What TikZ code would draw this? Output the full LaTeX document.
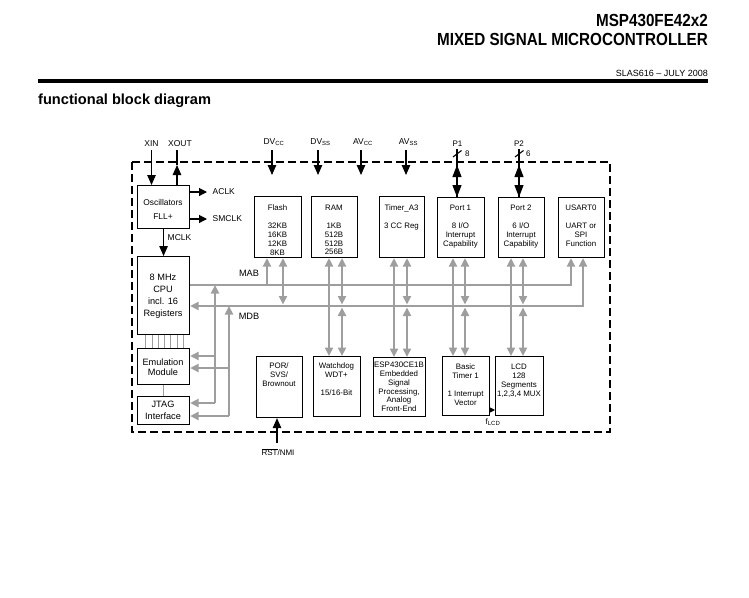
\documentclass[tikz,border=0pt]{standalone}
\usepackage{fontspec}
\setmainfont{Liberation Sans}
\newfontfamily\hdfont[FakeStretch=0.87]{Liberation Sans}
\usetikzlibrary{arrows.meta}
\definecolor{busgray}{RGB}{158,158,158}
\tikzset{
  box/.style={draw=black, line width=1.1pt, inner sep=0pt, anchor=north west},
  txt/.style={inner sep=0pt, align=center, anchor=north, font=\fontsize{7.9}{8.8}\selectfont},
  cputxt/.style={inner sep=0pt, align=center, anchor=north},
  lbl/.style={inner sep=0pt, font=\fontsize{8.5}{10}\selectfont},
  bus/.style={draw=busgray, line width=2.6pt},
  busarr/.style={bus, -{Triangle[width=8pt,length=8.5pt]}},
  busdbl/.style={bus, {Triangle[width=8pt,length=8.5pt]}-{Triangle[width=8pt,length=8.5pt]}},
  blk/.style={draw=black, line width=1.1pt, -{Triangle[width=8.5pt,length=10pt]}},
  blkline/.style={draw=black, line width=1.1pt},
  smallarr/.style={draw=black, line width=1pt, -{Triangle[width=6pt,length=6pt]}},
  thingray/.style={draw=busgray, line width=0.7pt},
  frame/.style={draw=black, line width=1.7pt, dash pattern=on 8pt off 4pt},
}
\begin{document}
\begin{tikzpicture}[x=1pt,y=-1pt]
\useasboundingbox (0,0) rectangle (749,597);
% header
\node[anchor=base east, inner sep=0, font={\hdfont\bfseries\fontsize{17.5}{18}\selectfont}] (title1) at (708,26.5) {MSP430FE42x2};
\node[anchor=base east, inner sep=0, font={\hdfont\bfseries\fontsize{17.5}{18}\selectfont}] (title2) at (708,45.5) {MIXED SIGNAL MICROCONTROLLER};
\node[anchor=base east, inner sep=0, font={\fontsize{9}{10}\selectfont}] (docid) at (708,76) {SLAS616 – JULY 2008};
\draw[line width=4.5pt] (38,80.8) -- (708,80.8);
\node[anchor=base west, inner sep=0, font={\bfseries\fontsize{14.6}{16}\selectfont}] (fbd) at (38,104) {functional block diagram};

% frame
\draw[frame] (132,162) rectangle (610,432);

% coordinates of buses
\coordinate (mab) at (0,285);
\coordinate (mdb) at (0,306);

% boxes
\node[box, minimum width=52pt, minimum height=43pt] (osc) at (137,185) {};
\node[box, minimum width=52pt, minimum height=78pt] (cpu) at (137,256) {};
\node[box, minimum width=52pt, minimum height=36pt] (emu) at (137,348) {};
\node[box, minimum width=52pt, minimum height=28pt] (jtag) at (137,396) {};

\node[box, minimum width=47pt, minimum height=61pt] (flash) at (254,196) {};
\node[box, minimum width=46pt, minimum height=61pt] (ram) at (311,196) {};
\node[box, minimum width=45pt, minimum height=61pt] (timer) at (379,196) {};
\node[box, minimum width=47pt, minimum height=60pt] (port1) at (437,197) {};
\node[box, minimum width=46pt, minimum height=60pt] (port2) at (498,197) {};
\node[box, minimum width=46pt, minimum height=60pt] (usart) at (558,197) {};

\node[box, minimum width=46pt, minimum height=61pt] (por) at (256,356) {};
\node[box, minimum width=47pt, minimum height=60pt] (wdt) at (313,356) {};
\node[box, minimum width=52pt, minimum height=59pt] (esp) at (373,357) {};
\node[box, minimum width=47pt, minimum height=59pt] (bt) at (442,356) {};
\node[box, minimum width=48pt, minimum height=59pt] (lcd) at (495,356) {};

% box texts
\node[cputxt, font={\fontsize{8.4}{14}\selectfont}] (osc-t) at (163,199) {Oscillators\\FLL+};
\node[cputxt, font={\fontsize{9.2}{12}\selectfont}] (cpu-t) at (163,273.5) {8 MHz\\CPU\\incl. 16\\Registers};
\node[cputxt, font={\fontsize{9.2}{10.3}\selectfont}] (emu-t) at (163,358.5) {Emulation\\Module};
\node[cputxt, font={\fontsize{9.2}{12}\selectfont}] (jtag-t) at (163,400.5) {JTAG\\Interface};

\node[txt] (flash-t) at (277.5,205) {Flash\\[9pt]32KB\\16KB\\12KB\\8KB};
\node[txt] (ram-t) at (334,205) {RAM\\[9pt]1KB\\512B\\512B\\256B};
\node[txt] (timer-t) at (401.5,205) {Timer\_A3\\[9pt]3 CC Reg};
\node[txt] (port1-t) at (460.5,205) {Port 1\\[9pt]8 I/O\\Interrupt\\Capability};
\node[txt] (port2-t) at (521,205) {Port 2\\[9pt]6 I/O\\Interrupt\\Capability};
\node[txt] (usart-t) at (581,205) {USART0\\[9pt]UART or\\SPI\\Function};

\node[txt] (por-t) at (279,363) {POR/\\SVS/\\Brownout};
\node[txt] (wdt-t) at (336.5,363) {Watchdog\\WDT+\\[9pt]15/16-Bit};
\node[txt] (esp-t) at (399,362) {ESP430CE1B\\Embedded\\Signal\\Processing,\\Analog\\Front-End};
\node[txt] (bt-t) at (465.5,364) {Basic\\Timer 1\\[9pt]1 Interrupt\\Vector};
\node[txt] (lcd-t) at (519,364) {LCD\\128\\Segments\\1,2,3,4 MUX};

% thin links CPU - emulation - JTAG
\foreach \x in {145,152,158,164,170,177,183}
  \draw[thingray] (\x,0 |- cpu.south) -- (\x,0 |- emu.north);
\draw[thingray] (emu.south) -- (jtag.north);

% buses
\draw[busarr] (cpu.east |- mab) -- (571,0 |- mab) -- (571,0 |- usart.south);
\draw[busdbl] (583,0 |- usart.south) -- (583,0 |- mdb) -- (cpu.east |- mdb);
\node[lbl, font={\fontsize{9.2}{10}\selectfont}] (mab-l) at (249,273) {MAB};
\node[lbl, font={\fontsize{9.2}{10}\selectfont}] (mdb-l) at (249,316) {MDB};

% left vertical buses to emulation / JTAG
\draw[busarr] (215,403) -- (215,0 |- mab);
\draw[busarr] (229,416) -- (229,0 |- mdb);
\draw[busarr] (215,356) -- (emu.east |- 0,356);
\draw[busarr] (229,368) -- (emu.east |- 0,368);
\draw[busarr] (215,403) -- (jtag.east |- 0,403);
\draw[busarr] (229,416) -- (jtag.east |- 0,416);

% module connections
\draw[busarr] (267,0 |- mab) -- (267,0 |- flash.south);
\draw[busdbl, shorten >=1.5pt] (283,0 |- flash.south) -- (283,0 |- mdb);

\draw[busdbl] (329,0 |- ram.south) -- (329,0 |- wdt.north);
\draw[busdbl, shorten >=1.5pt] (342,0 |- ram.south) -- (342,0 |- mdb);
\draw[busdbl, shorten <=1.5pt] (342,0 |- mdb) -- (342,0 |- wdt.north);

\draw[busdbl] (394,0 |- timer.south) -- (394,0 |- esp.north);
\draw[busdbl, shorten >=1.5pt] (407,0 |- timer.south) -- (407,0 |- mdb);
\draw[busdbl, shorten <=1.5pt] (407,0 |- mdb) -- (407,0 |- esp.north);

\draw[busdbl] (453,0 |- port1.south) -- (453,0 |- bt.north);
\draw[busdbl, shorten >=1.5pt] (465,0 |- port1.south) -- (465,0 |- mdb);
\draw[busdbl, shorten <=1.5pt] (465,0 |- mdb) -- (465,0 |- bt.north);

\draw[busdbl] (511,0 |- port2.south) -- (511,0 |- lcd.north);
\draw[busdbl, shorten >=1.5pt] (523,0 |- port2.south) -- (523,0 |- mdb);
\draw[busdbl, shorten <=1.5pt] (523,0 |- mdb) -- (523,0 |- lcd.north);

% oscillator I/O
\node[lbl] (xin) at (151.5,143.5) {XIN};
\node[lbl] (xout) at (180,143.5) {XOUT};
\draw[blk] (151.5,150) -- (151.5,0 |- osc.north);
\draw[blk] (177,0 |- osc.north) -- (177,165);
\draw[blkline] (177,165) -- (177,150);
\node[lbl, anchor=west] (aclk) at (212.5,192) {ACLK};
\node[lbl, anchor=west] (smclk) at (212.5,219) {SMCLK};
\node[lbl, anchor=west] (mclk) at (167.5,238) {MCLK};
\draw[blk, -{Triangle[width=8pt,length=8pt]}] (osc.east |- aclk) -- (207,0 |- aclk);
\draw[blk, -{Triangle[width=8pt,length=8pt]}] (osc.east |- smclk) -- (207,0 |- smclk);
\draw[blk] (osc.south) -- (cpu.north);

% supplies
\node[lbl] (dvcc) at (274,142) {DV\textsubscript{CC}};
\node[lbl] (dvss) at (320.5,142) {DV\textsubscript{SS}};
\node[lbl] (avcc) at (363,142) {AV\textsubscript{CC}};
\node[lbl] (avss) at (408.5,142) {AV\textsubscript{SS}};
\draw[blk] (272,150) -- (272,175);
\draw[blk] (318,150) -- (318,175);
\draw[blk] (361,150) -- (361,175);
\draw[blk] (406,150) -- (406,175);

% ports
\node[lbl, font={\fontsize{8}{9}\selectfont}] (p1) at (457.5,144) {P1};
\node[lbl, font={\fontsize{8}{9}\selectfont}] (p2) at (519,144) {P2};
\node[lbl, anchor=west, font={\fontsize{8}{9}\selectfont}] (p1n) at (465,154) {8};
\node[lbl, anchor=west, font={\fontsize{8}{9}\selectfont}] (p2n) at (526,154) {6};
\draw[blkline] (457,149) -- (457,0 |- port1.north);
\draw[blkline] (453,157) -- (461.5,150.5);
\draw[blk, -{Triangle[width=9pt,length=12pt]}] (457,180) -- (457,165);
\draw[blk, -{Triangle[width=9pt,length=12pt]}] (457,183) -- (457,0 |- port1.north);
\draw[blkline] (519,149) -- (519,0 |- port2.north);
\draw[blkline] (515,157) -- (523.5,150.5);
\draw[blk, -{Triangle[width=9pt,length=12pt]}] (519,180) -- (519,165);
\draw[blk, -{Triangle[width=9pt,length=12pt]}] (519,183) -- (519,0 |- port2.north);

% reset
\node[lbl, font={\fontsize{8}{9}\selectfont}] (rst) at (278,452) {$\overline{\hbox{RST}}$/NMI};
\draw[blk] (277,443) -- (277,0 |- por.south);

% fLCD
\draw[smallarr] (bt.east |- 0,410) -- (lcd.west |- 0,410);
\node[lbl, font={\fontsize{8}{9}\selectfont}] (flcd) at (493,422) {f\textsubscript{LCD}};
\end{tikzpicture}
\end{document}
